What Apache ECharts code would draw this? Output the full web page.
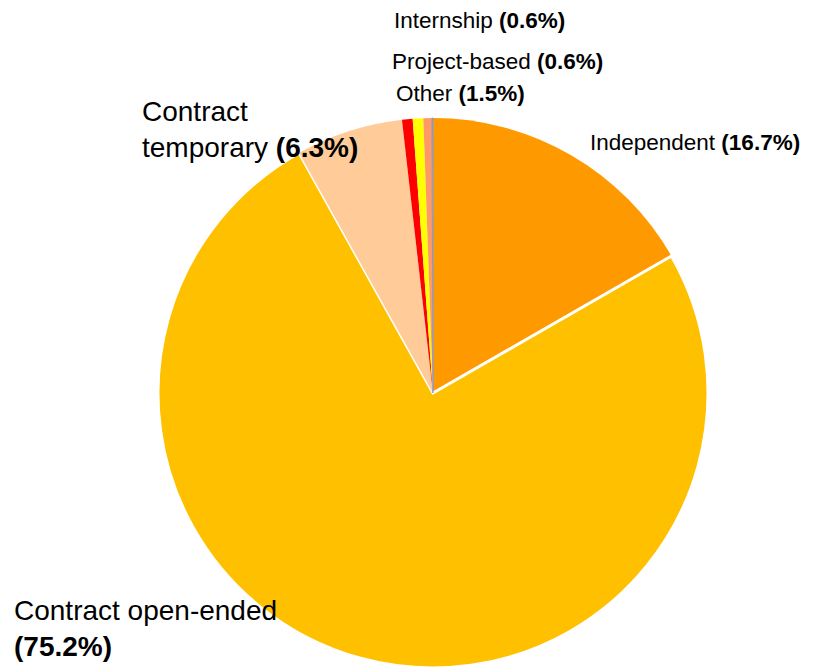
<!DOCTYPE html>
<html>
<head>
<meta charset="utf-8">
<script src="https://cdn.jsdelivr.net/npm/echarts@6/dist/echarts.min.js"></script>
<style>
  html, body { margin: 0; padding: 0; background: #fff; }
  #chart { width: 817px; height: 670px; }
</style>
</head>
<body>
<div id="chart"></div>
<script>
// slices clockwise from 12 o'clock
const names = ['Independent', 'Contract open-ended', 'Contract temporary', 'Internship', 'Project-based', 'Other', '']
const shares = [16.7, 75.2, 6.3, 0.62, 0.62, 0.5, 0.06]
const pctLabels = ['16.7%', '75.2%', '6.3%', '0.6%', '0.6%', '1.5%', '']
const colors = ['#FF9900', '#FFC000', '#FFCC99', '#FF0000', '#FFFF00', '#FF9966', '#8E9BC8']

// where each label sits (left edge, vertical middle)
const labelPos = [[590, 142], [14, 628], [142, 129], [394, 20], [392, 61], [396, 93], [0, 0]]
const labelText = [
  'Independent {b|(' + pctLabels[0] + ')}',
  '{L|Contract open-ended}\n{LB|(' + pctLabels[1] + ')}',
  '{L|Contract}\n{L|temporary }{LB|(' + pctLabels[2] + ')}',
  'Internship {b|(' + pctLabels[3] + ')}',
  'Project-based {b|(' + pctLabels[4] + ')}',
  'Other {b|(' + pctLabels[5] + ')}',
  ''
]

let chart = echarts.init(document.getElementById('chart'), null, { renderer: 'svg' })

let data = shares.map((v, i) => {
  let item = {
    value: v,
    name: names[i] || 'none',
    itemStyle: { color: colors[i] },
    label: { show: i !== 6, formatter: labelText[i] },
  }
  if (i === 1) {
    item.itemStyle.borderColor = '#fff'
    item.itemStyle.borderWidth = 3
  }
  if (i === 6) {
    item.itemStyle.borderColor = colors[6]
    item.itemStyle.borderWidth = 1
  }
  return item
})

const font = 'Liberation Sans, Arial, sans-serif'

let option = {
  animation: false,
  series: [{
    type: 'pie',
    center: [433, 393],
    radius: [0, 275],
    startAngle: 90,
    clockwise: true,
    avoidLabelOverlap: false,
    labelLine: { show: false },
    label: {
      position: 'outside',
      fontFamily: font,
      fontSize: 22.5,
      color: '#000',
      rich: {
        b: { fontFamily: font, fontSize: 22.5, fontWeight: 'bold', color: '#000' },
        L: { fontFamily: font, fontSize: 28, color: '#000', lineHeight: 36 },
        LB: { fontFamily: font, fontSize: 28, fontWeight: 'bold', color: '#000', lineHeight: 36 },
      },
    },
    labelLayout: function (params) {
      let p = labelPos[params.dataIndex]
      return { x: p[0], y: p[1], align: 'left', verticalAlign: 'middle', hideOverlap: false, moveOverlap: null }
    },
    data: data,
  }],
}
chart.setOption(option)
</script>
</body>
</html>
